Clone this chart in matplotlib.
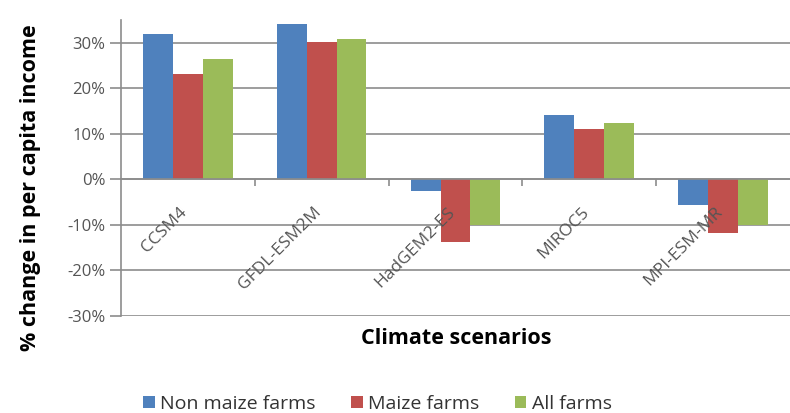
import numpy as np
import matplotlib.pyplot as plt
from matplotlib.ticker import FuncFormatter, FixedLocator

scenarios = ['CCSM4', 'GFDL-ESM2M', 'HadGEM2-ES', 'MIROC5', 'MPI-ESM-MR']
non_maize = [31.8, 34.1, -2.6, 14.0, -5.6]
maize     = [23.2, 30.2, -13.7, 11.1, -11.9]
all_farms = [26.3, 30.9, -10.0, 12.3, -10.0]

series = [
    ('Non maize farms', non_maize, '#4F81BD'),
    ('Maize farms',     maize,     '#C0504D'),
    ('All farms',       all_farms, '#9BBB59'),
]

plt.rcParams['font.family'] = ['Open Sans', 'DejaVu Sans']
grid_col = '#8c8c8c'
text_col = '#555555'

fig = plt.figure(figsize=(7.9, 4.13), dpi=100)
ax = fig.add_axes([0.153, 0.235, 0.847, 0.717])

x = np.arange(len(scenarios))
width = 0.223
for i, (name, vals, color) in enumerate(series):
    ax.bar(x + (i - 1) * width, vals, width, color=color, label=name, zorder=3)

ax.set_xlim(-0.5, len(scenarios) - 0.5)
ax.set_ylim(-30, 35)
ax.set_yticks(range(-30, 31, 10))
ax.yaxis.set_major_formatter(FuncFormatter(lambda v, p: f"{int(v)}%"))
ax.grid(axis='y', color=grid_col, linewidth=1.2, zorder=0)
ax.tick_params(axis='y', length=8, width=1.2, color=grid_col, labelsize=12,
               labelcolor=text_col, pad=3)

# category axis sits on the zero line, ticks between groups
ax.spines['bottom'].set_position(('data', 0))
ax.spines['bottom'].set_color(grid_col)
ax.spines['bottom'].set_linewidth(1.2)
ax.spines['bottom'].set_zorder(4)
ax.spines['left'].set_color(grid_col)
ax.spines['left'].set_linewidth(1.2)
ax.spines['top'].set_visible(False)
ax.spines['right'].set_visible(False)

ax.set_xticks(x)
ax.tick_params(axis='x', which='major', length=0, labelbottom=False)
ax.xaxis.set_minor_locator(FixedLocator(np.arange(0.5, len(scenarios) - 0.5, 1)))
ax.tick_params(axis='x', which='minor', length=5, width=1.2, color=grid_col, direction='out')

# rotated category names, drawn over the bars
for xi, name in zip(x, scenarios):
    ax.annotate(name, xy=(xi, 0), xytext=(-2, -22), textcoords='offset points',
                rotation=45, ha='right', va='center', rotation_mode='anchor',
                fontsize=12.5, color=text_col, zorder=6)

fig.text(0.038, 1 - 188 / 413, '% change in per capita income', rotation=90,
         fontsize=15.5, fontweight='bold', ha='center', va='center')
fig.text(0.577, 1 - 338 / 413, 'Climate scenarios', fontsize=15.5, fontweight='bold',
         ha='center', va='center')

fig.legend(loc='center', bbox_to_anchor=(0.478, 1 - 404 / 413), ncol=3, frameon=False,
           fontsize=14, handlelength=0.6, handleheight=0.6, columnspacing=1.8,
           handletextpad=0.3, labelcolor='#333333')

fig.savefig('out.png', dpi=100)
